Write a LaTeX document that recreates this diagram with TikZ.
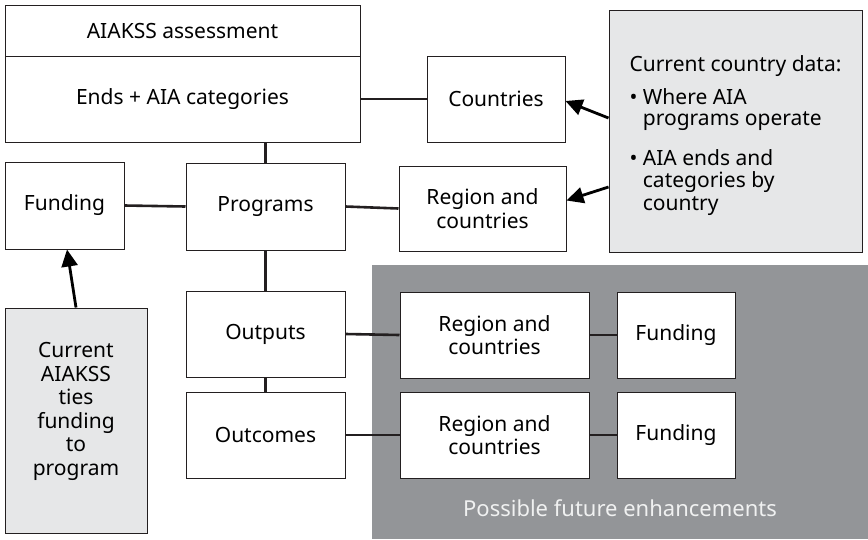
\documentclass[tikz,border=0pt]{standalone}
\usepackage{fontspec}
\setmainfont{Noto Sans}
\usepackage{tikz}
\usetikzlibrary{arrows.meta,positioning}
\definecolor{panelgrey}{HTML}{E6E7E8}
\definecolor{futuregrey}{HTML}{939598}
\definecolor{inkline}{HTML}{231F20}
\tikzstyle{box} = [rectangle, draw=inkline, line width=1pt, fill=white, align=center, inner sep=0pt]
\tikzstyle{note} = [box, fill=panelgrey]
\tikzstyle{connector} = [line width=2.6pt, draw=inkline]
\tikzstyle{pointer} = [line width=2.8pt, draw=black, -{Triangle[length=17pt,width=16pt]}]

\begin{document}
\begin{tikzpicture}[x=1pt, y=-1pt, every node/.style={font=\fontsize{21}{23.5}\selectfont}]
        \useasboundingbox (0,0) rectangle (868,539);
        \fill[futuregrey] (372,265) rectangle (868,539);
        \node (enhance-label) [text=panelgrey!60!white, font=\fontsize{22}{24}\selectfont] at (620,508) {Possible future enhancements};
        \node (assessment) [box, minimum width=355pt, minimum height=51pt] at (182.5,30.5) {AIAKSS assessment};
        \node (ends) [box, minimum width=355pt, minimum height=86pt] at (182.5,99) {Ends + AIA categories};
        \node (countries) [box, minimum width=138pt, minimum height=86pt] at (496,99) {Countries};
        \node (funding) [box, minimum width=119pt, minimum height=87pt] at (64.5,205.5) {Funding};
        \node (programs) [box, minimum width=159pt, minimum height=87pt] at (265.5,206.5) {Programs};
        \node (region-1) [box, minimum width=167pt, minimum height=85pt] at (482.5,208.5) {Region and\\countries};
        \node (country-data) [note, minimum width=253pt, minimum height=242pt, align=left] at (735.5,131) {\mbox{}\\[2pt]Current country data:\\[9pt]
            \textbullet\ Where AIA\\[-2pt]\phantom{\textbullet\ }programs operate\\[16pt]
            \textbullet\ AIA ends and\\[-1pt]\phantom{\textbullet\ }categories by\\[-1pt]\phantom{\textbullet\ }country};
        \node (outputs) [box, minimum width=159pt, minimum height=86pt] at (265.5,334) {Outputs};
        \node (outcomes) [box, minimum width=159pt, minimum height=86pt] at (265.5,435) {Outcomes};
        \node (region-2) [box, minimum width=189pt, minimum height=86pt] at (494.5,335) {Region and\\countries};
        \node (funding-2) [box, minimum width=118pt, minimum height=86pt] at (676,335) {Funding};
        \node (region-3) [box, minimum width=189pt, minimum height=86pt] at (494.5,435) {Region and\\countries};
        \node (funding-3) [box, minimum width=118pt, minimum height=86pt] at (676,435) {Funding};
        \node (current-aiakss) [note, minimum width=142pt, minimum height=225pt] at (76,420.5) {Current\\AIAKSS\\ties\\funding\\to\\program\\\mbox{}};
        \draw [connector] (ends.east) -- (countries.west);
        \draw [connector] (programs.north) -- (programs.north |- ends.south);
        \draw [connector] (funding.east) -- (programs.west);
        \draw [connector] (programs.east) -- (region-1.west);
        \draw [connector] (programs.south) -- (outputs.north);
        \draw [connector] (outputs.south) -- (outcomes.north);
        \draw [connector] (outputs.east) -- (region-2.west);
        \draw [connector] (region-2.east) -- (funding-2.west);
        \draw [connector] (outcomes.east) -- (region-3.west);
        \draw [connector] (region-3.east) -- (funding-3.west);
        \draw [pointer] ([yshift=13pt]country-data.west) -- ([yshift=-2pt]countries.east);
        \draw [pointer] ([yshift=-56pt]country-data.west) -- ([yshift=8pt]region-1.east);
        \draw [pointer] (current-aiakss.north) -- ([xshift=2.5pt]funding.south);
    \end{tikzpicture}
\end{document}
